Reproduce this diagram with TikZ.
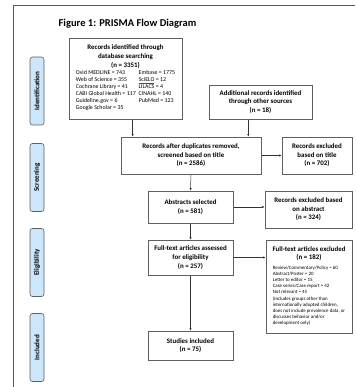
\documentclass[tikz,border=0pt]{standalone}
\usepackage{fontspec}
\setmainfont{Carlito}
\usetikzlibrary{arrows.meta}
\pgfdeclarelayer{edgelayer}
\pgfdeclarelayer{nodelayer}
\pgfsetlayers{edgelayer,nodelayer,main}
\definecolor{phaseblue}{RGB}{204,230,252}
\definecolor{boxgray}{RGB}{95,95,95}
\newcommand{\boxfont}{\fontsize{6.9}{8.6}\selectfont\bfseries}
\newcommand{\listfont}{\fontsize{5.9}{7}\selectfont\mdseries}
\newcommand{\notefont}{\fontsize{4.9}{6.2}\selectfont\mdseries}
\newcommand{\spellmark}[1]{{\color{red}\underline{\color{black}#1}}}
\tikzstyle{box}=[rectangle, draw=boxgray, line width=0.6pt, fill=white, align=center, font=\boxfont, inner sep=1pt]
\tikzstyle{phase}=[rectangle, rounded corners=2.5pt, draw=boxgray, line width=0.6pt, fill=phaseblue, rotate=90, minimum width=68pt, minimum height=14pt, inner sep=0pt, font=\fontsize{7}{8}\selectfont\bfseries]
\tikzstyle{arrow}=[draw=black!80, line width=0.5pt, -{Latex[length=2.6pt,width=2.2pt]}]
\tikzstyle{frame}=[draw=black!65, line width=0.9pt]

\begin{document}
\begin{tikzpicture}[x=1pt,y=-1pt]
	\useasboundingbox (0,0) rectangle (355,387);
	\draw [style=frame] (355,5) -- (13,5) -- (13,387);
	\node (title) at (127.5, 24) {\fontsize{10.5}{12}\selectfont\bfseries Figure 1: PRISMA Flow Diagram};
	\begin{pgfonlayer}{nodelayer}
		\node [style=phase] (ident) at (37, 91) {Identification};
		\node [style=phase] (screen) at (37, 177.5) {Screening};
		\node [style=phase] (elig) at (37, 262.5) {Eligibility};
		\node [style=phase] (incl) at (37, 347.5) {Included};

		\node [style=box, minimum width=113pt, minimum height=81pt] (db) at (125.5, 78.5) {Records identified through\\database searching\\(n = 3351)\\[1pt]{\listfont\begin{tabular}{@{}l@{\hspace{3pt}}l@{}}
			Ovid MEDLINE = 743 & Embase = 1775\\
			Web of Science = 355 & \spellmark{SciELO} = 12\\
			Cochrane Library = 41 & LILACS = 4\\
			CABI Global Health = 117 & CINAHL = 140\\
			Guideline.gov = 6 & PubMed = 123\\
			Google Scholar = 35 & \\
		\end{tabular}}};
		\node [style=box, minimum width=103pt, minimum height=34pt] (other) at (260.5, 102) {Additional records identified\\through other sources\\(n = 18)};
		\node [style=box, minimum width=140pt, minimum height=37pt] (dedup) at (191, 155.5) {Records after duplicates removed,\\screened based on title\\(n = 2586)};
		\node [style=box, minimum width=70pt, minimum height=37pt] (extitle) at (317, 155.5) {Records excluded\\based on title\\(n = 702)};
		\node [style=box, minimum width=85pt, minimum height=32pt] (abstr) at (190.5, 207) {Abstracts selected\\(n = 581)};
		\node [style=box, minimum width=87pt, minimum height=37pt] (exabstr) at (308.5, 209.5) {Records excluded based\\on abstract\\(n = 324)};
		\node [style=box, minimum width=85pt, minimum height=35pt] (full) at (190.5, 257.5) {Full-text articles assessed\\for eligibility\\(n = 257)};
		\node [style=box, minimum width=86pt, minimum height=93pt] (exfull) at (309, 286.5) {Full-text articles excluded\\(n = 182)\\[3pt]{\notefont\begin{tabular}{@{}l@{}}
			Review/Commentary/Policy = 60\\
			Abstract/Poster = 20\\
			Letter to editor = 15\\
			Case series/Case report = 42\\
			Not relevant = 45\\
			(Includes groups other than\\
			internationally adopted children,\\
			does not include prevalence data, or\\
			discusses behavior and/or\\
			development only)\\
		\end{tabular}}};
		\node [style=box, minimum width=85pt, minimum height=29pt] (studies) at (190.5, 345.5) {Studies included\\(n = 75)};
	\end{pgfonlayer}
	\coordinate (inA) at ([xshift=12pt]dedup.north west);
	\coordinate (inB) at ([xshift=-13pt]dedup.north east);
	\begin{pgfonlayer}{edgelayer}
		\draw [style=arrow] (db.south -| inA) -- (inA);
		\draw [style=arrow] (other.south -| inB) -- (inB);
		\draw [style=arrow] (dedup) -- (extitle);
		\draw [style=arrow] (dedup) -- (abstr);
		\draw [style=arrow] (abstr.east) -- (abstr.east -| exabstr.west);
		\draw [style=arrow] (abstr) -- (full);
		\draw [style=arrow] (full.east) -- (full.east -| exfull.west);
		\draw [style=arrow] (full) -- (studies);
	\end{pgfonlayer}
\end{tikzpicture}
\end{document}
